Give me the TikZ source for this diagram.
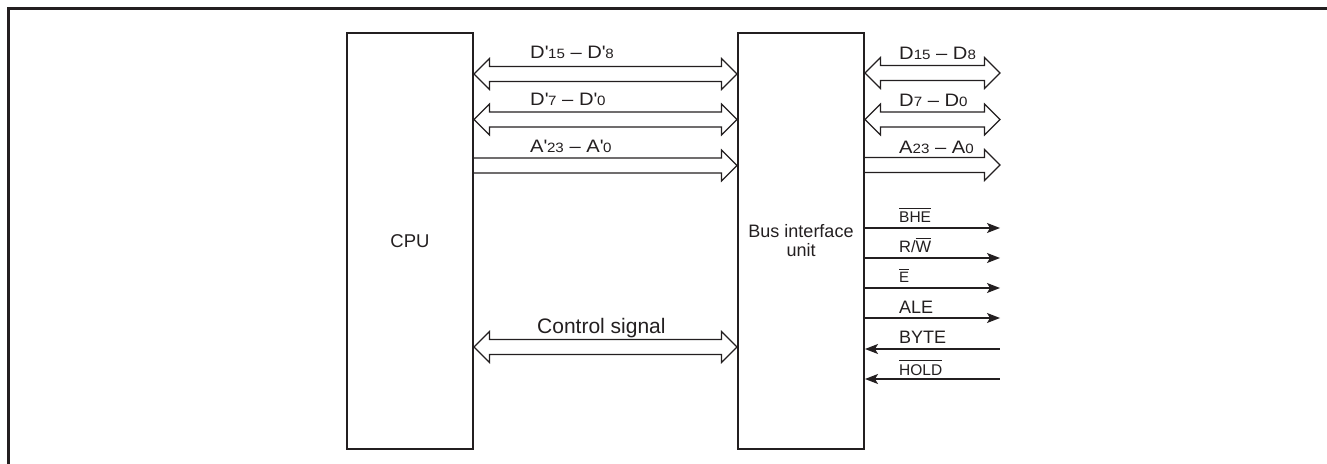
\documentclass[tikz,border=0pt]{standalone}
\usepackage{fontspec}
\setmainfont{Liberation Sans}
\newfontfamily\busfont[FakeStretch=1.12]{Liberation Sans}
\usetikzlibrary{calc,arrows.meta}
\definecolor{ink}{RGB}{35,31,32}
\newcommand\pr{\textquotesingle}
\newcommand\sbs[1]{{\fontsize{13.5bp}{13.5bp}\selectfont #1}}
\newcommand\ovl[1]{\setbox0\hbox{#1}\rlap{\raisebox{\dimexpr\ht0+3bp\relax}{\rule{\wd0}{0.9bp}}}\box0}
\newcommand\hdouble[2]{%
  \draw[busline] (#1) -- ++(15.5,-15.5) -- ++(0,8) -- ($(#2)+(-15.5,-7.5)$) -- ++(0,-8) -- (#2) -- ++(-15.5,15.5) -- ++(0,-8) -- ($(#1)+(15.5,7.5)$) -- ++(0,8) -- cycle;}
\newcommand\hsingle[2]{%
  \draw[busline] ($(#1)+(0,-7.5)$) -- ($(#2)+(-15.5,-7.5)$) -- ++(0,-8) -- (#2) -- ++(-15.5,15.5) -- ++(0,-8) -- ($(#1)+(0,7.5)$);}
\tikzset{
  blk/.style={draw=ink, line width=2bp, minimum width=126bp, minimum height=416bp, inner sep=0pt, text=ink, align=center},
  busline/.style={draw=ink, line width=1.1bp, line join=miter},
  sig/.style={draw=ink, line width=1.3bp},
  sigout/.style={sig, -{Stealth[length=13bp,width=10bp,inset=3bp]}},
  sigin/.style={sig, {Stealth[length=13bp,width=10bp,inset=3bp]}-},
  lbl/.style={inner sep=0pt, text=ink, anchor=base west},
  buslbl/.style={lbl, font=\busfont\fontsize{18bp}{18bp}\selectfont},
  frame/.style={draw=ink, line width=2.7bp}
}
\begin{document}
\begin{tikzpicture}[x=1bp,y=-1bp]
\useasboundingbox (0,0) rectangle (1327,464);
\draw[frame] (8.7,466) -- (8.7,8.7) -- (1330,8.7);

\node[blk, font=\fontsize{18.5bp}{19bp}\selectfont] (cpu) at (410,241) {CPU};
\node[blk, font=\fontsize{18bp}{19bp}\selectfont] (biu) at (801,241) {Bus interface\\unit};

% level guides
\coordinate (g1) at (0,74);
\coordinate (g2) at (0,119.5);
\coordinate (g3) at (0,165.5);
\coordinate (g4) at (0,347);
\coordinate (h1) at (0,73);
\coordinate (h2) at (0,119.5);
\coordinate (h3) at (0,165);

\coordinate (cl1) at (cpu.east |- g1);
\coordinate (cl2) at (cpu.east |- g2);
\coordinate (cl3) at (cpu.east |- g3);
\coordinate (cl4) at (cpu.east |- g4);
\coordinate (bl1) at (biu.west |- g1);
\coordinate (bl2) at (biu.west |- g2);
\coordinate (bl3) at (biu.west |- g3);
\coordinate (bl4) at (biu.west |- g4);
\coordinate (br1) at (biu.east |- h1);
\coordinate (br2) at (biu.east |- h2);
\coordinate (br3) at (biu.east |- h3);
\coordinate (e1) at (1000,73);
\coordinate (e2) at (1000,119.5);
\coordinate (e3) at (1000,165);

\hdouble{cl1}{bl1}
\hdouble{cl2}{bl2}
\hsingle{cl3}{bl3}
\hdouble{cl4}{bl4}
\hdouble{br1}{e1}
\hdouble{br2}{e2}
\hsingle{br3}{e3}

\node[buslbl] (t1) at (530,59) {D\pr\sbs{15} – D\pr\sbs{8}};
\node[buslbl] (t2) at (530,106) {D\pr\sbs{7} – D\pr\sbs{0}};
\node[buslbl] (t3) at (530,153) {A\pr\sbs{23} – A\pr\sbs{0}};
\node[lbl, font=\fontsize{21bp}{21bp}\selectfont] (t4) at (537,333) {Control signal};
\node[buslbl] (u1) at (899,60) {D\sbs{15} – D\sbs{8}};
\node[buslbl] (u2) at (899,107) {D\sbs{7} – D\sbs{0}};
\node[buslbl] (u3) at (899,154) {A\sbs{23} – A\sbs{0}};

% control signals
\coordinate (o1) at (1000,228);
\coordinate (o2) at (1000,258);
\coordinate (o3) at (1000,288);
\coordinate (o4) at (1000,318);
\coordinate (o5) at (1000,349);
\coordinate (o6) at (1000,379);
\draw[sigout] (biu.east |- o1) -- (o1);
\draw[sigout] (biu.east |- o2) -- (o2);
\draw[sigout] (biu.east |- o3) -- (o3);
\draw[sigout] (biu.east |- o4) -- (o4);
\draw[sigin] (biu.east |- o5) -- (o5);
\draw[sigin] (biu.east |- o6) -- (o6);

\node[lbl, font=\fontsize{15.5bp}{15.5bp}\selectfont] (s1) at (899,223) {\ovl{BHE}};
\node[lbl, font=\fontsize{16.5bp}{16.5bp}\selectfont] (s2) at (899,253) {R/\ovl{W}};
\node[lbl, font=\fontsize{15bp}{15bp}\selectfont] (s3) at (899,283) {\ovl{E}};
\node[lbl, font=\fontsize{18bp}{18bp}\selectfont] (s4) at (899,314) {ALE};
\node[lbl, font=\fontsize{18bp}{18bp}\selectfont] (s5) at (899,343) {BYTE};
\node[lbl, font=\fontsize{15.5bp}{15.5bp}\selectfont] (s6) at (899,375) {\ovl{HOLD}};
\end{tikzpicture}
\end{document}
